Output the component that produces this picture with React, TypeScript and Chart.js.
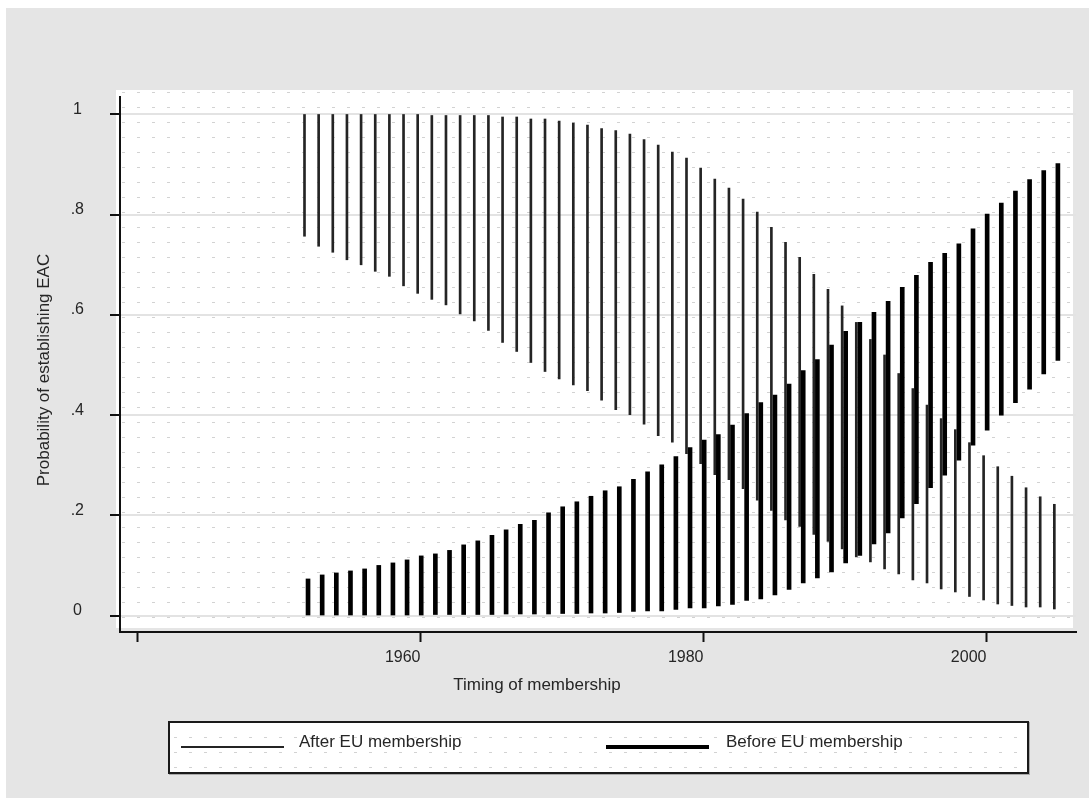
import React, { useEffect, useRef } from 'react';
import { Chart, registerables } from 'chart.js';

Chart.register(...registerables);

// ---------------- data ----------------
const years = [
  1952, 1953, 1954, 1955, 1956, 1957, 1958, 1959, 1960, 1961,
  1962, 1963, 1964, 1965, 1966, 1967, 1968, 1969, 1970, 1971,
  1972, 1973, 1974, 1975, 1976, 1977, 1978, 1979, 1980, 1981,
  1982, 1983, 1984, 1985, 1986, 1987, 1988, 1989, 1990, 1991,
  1992, 1993, 1994, 1995, 1996, 1997, 1998, 1999, 2000, 2001,
  2002, 2003, 2004, 2005,
];

// "After EU membership" (thin spikes): upper and lower ends
const afterHigh = [
  1.0, 1.0, 1.0, 1.0, 1.0, 1.0, 1.0, 1.0, 1.0, 0.998,
  0.998, 0.998, 0.998, 0.998, 0.995, 0.995, 0.991, 0.991, 0.987, 0.983,
  0.979, 0.972, 0.968, 0.961, 0.95, 0.939, 0.925, 0.913, 0.893, 0.871,
  0.853, 0.831, 0.805, 0.775, 0.745, 0.715, 0.681, 0.651, 0.618, 0.585,
  0.551, 0.52, 0.483, 0.453, 0.42, 0.393, 0.371, 0.345, 0.319, 0.297,
  0.278, 0.255, 0.237, 0.222,
];
const afterLow = [
  0.757, 0.737, 0.725, 0.71, 0.70, 0.687, 0.677, 0.658, 0.643, 0.631,
  0.62, 0.602, 0.588, 0.569, 0.545, 0.527, 0.505, 0.487, 0.472, 0.46,
  0.449, 0.43, 0.411, 0.401, 0.382, 0.359, 0.346, 0.323, 0.303, 0.281,
  0.271, 0.253, 0.23, 0.21, 0.191, 0.178, 0.162, 0.148, 0.133, 0.117,
  0.107, 0.093, 0.083, 0.071, 0.065, 0.053, 0.047, 0.038, 0.031, 0.023,
  0.02, 0.017, 0.017, 0.013,
];

// "Before EU membership" (thick spikes): lower and upper ends
const beforeLow = [
  0.001, 0.001, 0.001, 0.001, 0.001, 0.001, 0.001, 0.001, 0.001, 0.002,
  0.002, 0.002, 0.002, 0.002, 0.003, 0.003, 0.003, 0.003, 0.004, 0.004,
  0.005, 0.005, 0.006, 0.008, 0.009, 0.009, 0.012, 0.015, 0.015, 0.019,
  0.022, 0.03, 0.033, 0.041, 0.052, 0.065, 0.075, 0.087, 0.105, 0.12,
  0.143, 0.165, 0.195, 0.223, 0.255, 0.28, 0.31, 0.34, 0.37, 0.40,
  0.425, 0.452, 0.482, 0.509,
];
const beforeHigh = [
  0.073, 0.081, 0.085, 0.089, 0.093, 0.10, 0.105, 0.111, 0.119, 0.123,
  0.13, 0.141, 0.149, 0.16, 0.171, 0.182, 0.19, 0.205, 0.217, 0.227,
  0.238, 0.249, 0.257, 0.272, 0.287, 0.301, 0.317, 0.335, 0.35, 0.361,
  0.38, 0.403, 0.425, 0.44, 0.462, 0.489, 0.511, 0.54, 0.567, 0.585,
  0.605, 0.627, 0.655, 0.679, 0.705, 0.723, 0.742, 0.772, 0.801, 0.823,
  0.847, 0.87, 0.888, 0.902,
];

const seriesLabels = ['After EU membership', 'Before EU membership'];
const xTickValues = [1940, 1960, 1980, 2000];
const xTickLabels = ['', '1960', '1980', '2000'];
const yTickValues = [0, 0.2, 0.4, 0.6, 0.8, 1];
const yTickLabels = ['0', '.2', '.4', '.6', '.8', '1'];
const xTitle = 'Timing of membership';
const yTitle = 'Probability of establishing EAC';

// ---------------- styling ----------------
const FONT = "'Liberation Sans', Arial, Helvetica, sans-serif";
const BG = '#e5e5e5';
const TEXT = '#262626';
const AFTER_SHIFT = -0.2; // small horizontal offsets of the two series
const BEFORE_SHIFT = 0.05;

function drawDots(ctx: CanvasRenderingContext2D, x0: number, y0: number, x1: number, y1: number, sx: number, sy: number) {
  const step = 15;
  const startX = sx - step * Math.floor((sx - x0) / step);
  const startY = sy - step * Math.floor((sy - y0) / step);
  ctx.fillStyle = '#d2d2d2';
  for (let y = startY; y < y1 - 1; y += step) {
    for (let x = startX; x < x1 - 3; x += step) {
      ctx.fillRect(Math.round(x), Math.round(y), 3, 1);
    }
  }
}

const stataPlugin = {
  id: 'stataLook',
  beforeDraw(chart: any) {
    const { ctx, chartArea: a } = chart;
    ctx.save();
    ctx.fillStyle = '#ffffff';
    ctx.fillRect(0, 0, chart.width, chart.height);
    ctx.fillStyle = BG;
    ctx.fillRect(6, 8, chart.width - 6, 790);
    // plot region
    const px0 = a.left - 4, py0 = a.top - 7, px1 = a.right - 3, py1 = a.bottom - 4;
    ctx.fillStyle = '#ffffff';
    ctx.fillRect(px0, py0, px1 - px0, py1 - py0);
    drawDots(ctx, px0, py0, px1, py1, a.left + 2, a.top + 9.5);
    ctx.restore();
  },
  afterDraw(chart: any) {
    const { ctx, chartArea: a } = chart;
    ctx.save();
    // axis titles
    ctx.fillStyle = TEXT;
    ctx.font = `17px ${FONT}`;
    ctx.textAlign = 'center';
    ctx.textBaseline = 'middle';
    ctx.fillText(xTitle, 537, 685);
    ctx.save();
    ctx.translate(44, 370);
    ctx.rotate(-Math.PI / 2);
    ctx.fillText(yTitle, 0, 0);
    ctx.restore();

    // legend box
    const cx = (a.left + a.right) / 2;
    const bw = 859, bh = 51;
    const bx = Math.round(cx - bw / 2), by = 722;
    ctx.fillStyle = '#ffffff';
    ctx.fillRect(bx, by, bw, bh);
    drawDots(ctx, bx + 2, by + 2, bx + bw - 2, by + bh - 2, bx + 5, by + 15);
    ctx.strokeStyle = '#aaaaaa';
    ctx.lineWidth = 1;
    ctx.strokeRect(bx + 0.5, by + 0.5, bw + 1, bh + 1);
    ctx.strokeStyle = '#1a1a1a';
    ctx.lineWidth = 2;
    ctx.strokeRect(bx, by, bw, bh);

    const ds = chart.data.datasets;
    const items = [
      { sx: bx + 12, tx: bx + 130 },
      { sx: bx + 437, tx: bx + 557 },
    ];
    ds.forEach((d: any, i: number) => {
      const it = items[i];
      ctx.strokeStyle = d.backgroundColor;
      ctx.lineWidth = d.barThickness;
      ctx.beginPath();
      ctx.moveTo(it.sx, by + 25);
      ctx.lineTo(it.sx + 103, by + 25);
      ctx.stroke();
      ctx.fillStyle = TEXT;
      ctx.font = `17px ${FONT}`;
      ctx.textAlign = 'left';
      ctx.textBaseline = 'middle';
      ctx.fillText(d.label, it.tx, by + 20);
    });
    ctx.restore();
  },
};

export default function App() {
  const canvasRef = useRef<HTMLCanvasElement | null>(null);

  useEffect(() => {
    const canvas = canvasRef.current;
    if (!canvas) return;
    const chart = new Chart(canvas, {
      type: 'bar',
      data: {
        datasets: [
          {
            label: seriesLabels[0],
            data: years.map((yr, i) => ({ x: yr + AFTER_SHIFT, y: [afterLow[i], afterHigh[i]] })) as any,
            backgroundColor: '#242424',
            barThickness: 2,
            grouped: false,
            borderWidth: 0,
          } as any,
          {
            label: seriesLabels[1],
            data: years.map((yr, i) => ({ x: yr + BEFORE_SHIFT, y: [beforeLow[i], beforeHigh[i]] })) as any,
            backgroundColor: '#000000',
            barThickness: 4,
            grouped: false,
            borderWidth: 0,
          } as any,
        ],
      },
      options: {
        responsive: false,
        animation: false,
        devicePixelRatio: 1,
        events: [],
        layout: { padding: { left: 0, right: 13, top: 97, bottom: 111 } },
        plugins: {
          legend: { display: false },
          tooltip: { enabled: false },
          title: { display: false },
        },
        scales: {
          x: {
            type: 'linear',
            min: 1938.76,
            max: 2006.33,
            offset: false,
            afterBuildTicks: (s: any) => {
              s.ticks = xTickValues.map((v) => ({ value: v }));
            },
            afterFit: (s: any) => {
              s.height = 60;
            },
            grid: {
              offset: false,
              drawOnChartArea: false,
              tickLength: 10,
              tickColor: '#111',
              tickWidth: 2,
              color: '#111',
            },
            border: { display: true, color: '#111', width: 2 },
            ticks: {
              align: 'end',
              padding: 6,
              maxRotation: 0,
              autoSkip: false,
              color: TEXT,
              font: { family: FONT, size: 16 },
              callback: (_v: any, i: number) => xTickLabels[i],
            },
          } as any,
          y: {
            type: 'linear',
            min: -0.0329,
            max: 1.0349,
            afterBuildTicks: (s: any) => {
              s.ticks = yTickValues.map((v) => ({ value: v }));
            },
            afterFit: (s: any) => {
              s.width = 120;
            },
            grid: {
              offset: false,
              color: '#e3e3e3',
              lineWidth: 2,
              tickLength: 10,
              tickColor: '#111',
              tickWidth: 2,
            },
            border: { display: true, color: '#111', width: 2 },
            ticks: {
              crossAlign: 'center',
              padding: 26,
              labelOffset: -5,
              color: TEXT,
              font: { family: FONT, size: 16 },
              callback: (_v: any, i: number) => yTickLabels[i],
            },
          } as any,
        },
      },
      plugins: [stataPlugin],
    });
    return () => chart.destroy();
  }, []);

  return (
    <div style={{ position: 'absolute', left: 0, top: 0, width: 1089, height: 803 }}>
      <canvas ref={canvasRef} width={1089} height={803} style={{ display: 'block' }} />
    </div>
  );
}
